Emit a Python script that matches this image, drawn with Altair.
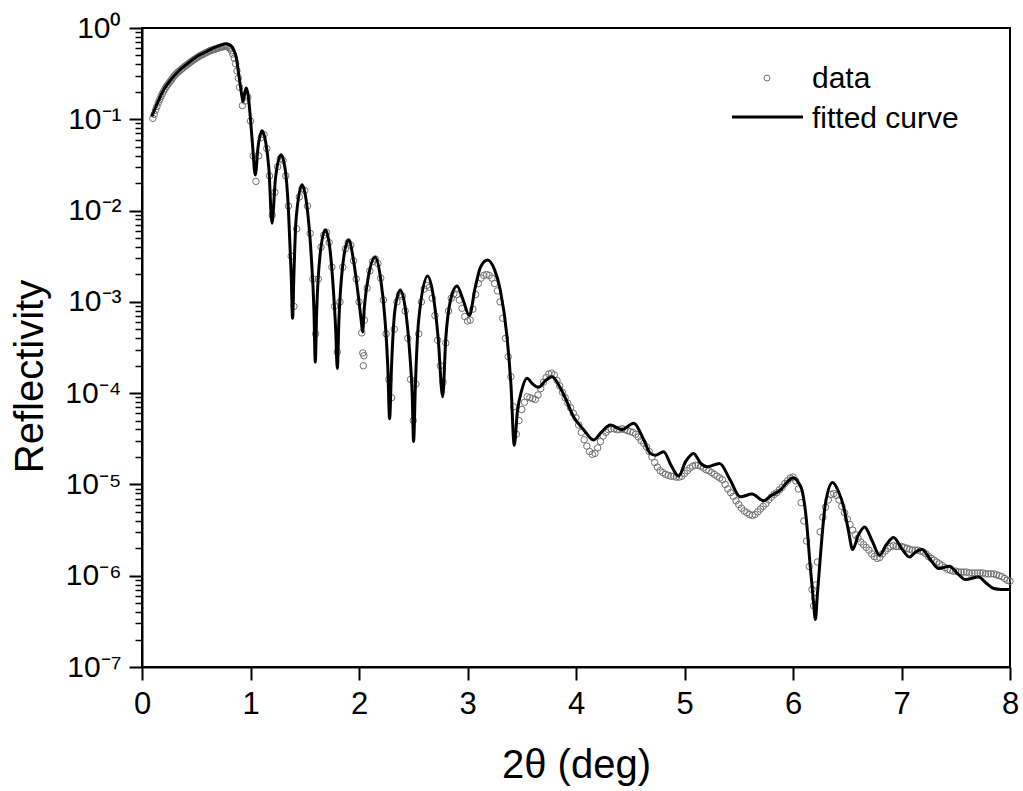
import json
import altair as alt
import pandas as pd

# ---------------- data ----------------
# measured reflectivity: 2theta (deg) and log10(reflectivity), part A (0.1 - 3.5)
data_x_a = [
    0.100, 0.125, 0.150, 0.175, 0.200, 0.225, 0.250, 0.275, 0.300, 0.325,
    0.350, 0.375, 0.400, 0.425, 0.450, 0.475, 0.500, 0.525, 0.550, 0.575,
    0.600, 0.625, 0.650, 0.675, 0.700, 0.725, 0.750, 0.775, 0.800, 0.825,
    0.850, 0.875, 0.900, 0.925, 0.950, 0.975, 1.000, 1.025, 1.050, 1.075,
    1.100, 1.125, 1.150, 1.175, 1.200, 1.225, 1.250, 1.275, 1.300, 1.325,
    1.350, 1.375, 1.400, 1.425, 1.450, 1.475, 1.500, 1.525, 1.550, 1.575,
    1.600, 1.625, 1.650, 1.675, 1.700, 1.725, 1.750, 1.775, 1.800, 1.825,
    1.850, 1.875, 1.900, 1.925, 1.950, 1.975, 2.000, 2.025, 2.035, 2.040,
    2.045, 2.050, 2.075, 2.100, 2.125, 2.150, 2.175, 2.200, 2.225, 2.250,
    2.275, 2.300, 2.325, 2.350, 2.375, 2.400, 2.425, 2.450, 2.475, 2.500,
    2.525, 2.550, 2.575, 2.600, 2.625, 2.650, 2.675, 2.700, 2.725, 2.750,
    2.775, 2.800, 2.825, 2.850, 2.875, 2.900, 2.925, 2.950, 2.975, 3.000,
    3.025, 3.050, 3.075, 3.100, 3.125, 3.150, 3.175, 3.200, 3.225, 3.250,
    3.275, 3.300, 3.325, 3.350, 3.375, 3.400, 3.425, 3.450, 3.475, 3.500,
]
data_logr_a = [
    -0.99, -0.90, -0.82, -0.75, -0.69, -0.64, -0.60, -0.56, -0.52, -0.49,
    -0.465, -0.44, -0.415, -0.395, -0.37, -0.35, -0.33, -0.31, -0.295, -0.28,
    -0.265, -0.25, -0.24, -0.23, -0.22, -0.21, -0.205, -0.20, -0.215, -0.25,
    -0.33, -0.47, -0.65, -0.85, -0.80, -0.76, -1.02, -1.40, -1.68, -1.40,
    -1.20, -1.17, -1.32, -1.62, -2.05, -1.80, -1.52, -1.43, -1.45, -1.62,
    -1.95, -2.50, -3.05, -2.20, -1.85, -1.76, -1.78, -1.95, -2.25, -2.75,
    -3.35, -2.75, -2.40, -2.27, -2.24, -2.35, -2.62, -3.05, -3.55, -3.00,
    -2.62, -2.42, -2.35, -2.38, -2.55, -2.75, -3.00, -3.34, -3.56, -3.70,
    -3.59, -3.20, -2.85, -2.66, -2.56, -2.53, -2.58, -2.74, -2.98, -3.35,
    -3.85, -4.05, -3.30, -3.00, -2.92, -2.94, -3.10, -3.40, -3.85, -4.30,
    -3.90, -3.35, -3.00, -2.86, -2.82, -2.84, -2.96, -3.15, -3.42, -3.70,
    -3.88, -3.45, -3.10, -2.96, -2.91, -2.92, -2.98, -3.07, -3.16, -3.21,
    -3.20, -3.08, -2.92, -2.80, -2.74, -2.71, -2.70, -2.71, -2.74, -2.80,
    -2.88, -3.00, -3.18, -3.40, -3.60, -3.82, -4.15, -4.45, -4.30, -4.18,
]
# part B: extra points on the critical-angle plateau
data_x_b = [
    0.1125, 0.1375, 0.1625, 0.1875, 0.2125, 0.2375, 0.2625, 0.2875,
    0.3125, 0.3375, 0.3625, 0.3875, 0.4125, 0.4375, 0.4625, 0.4875,
    0.5125, 0.5375, 0.5625, 0.5875, 0.6125, 0.6375, 0.6625, 0.6875,
    0.7125, 0.7375, 0.7625, 0.7875, 0.8125, 0.8375, 0.8625, 0.8875,
]
data_logr_b = [
    -0.945, -0.86, -0.785, -0.72, -0.665, -0.62, -0.58, -0.54,
    -0.505, -0.477, -0.452, -0.427, -0.405, -0.382, -0.36, -0.34,
    -0.32, -0.302, -0.287, -0.272, -0.257, -0.245, -0.235, -0.225,
    -0.215, -0.207, -0.202, -0.205, -0.23, -0.285, -0.39, -0.55,
]
# part C: 3.5 - 8
data_x_c = [
    3.525, 3.550, 3.575, 3.600, 3.625, 3.650, 3.675, 3.700, 3.725, 3.750,
    3.775, 3.800, 3.825, 3.850, 3.875, 3.900, 3.925, 3.950, 3.975, 4.000,
    4.025, 4.050, 4.075, 4.100, 4.125, 4.150, 4.175, 4.200, 4.225, 4.250,
    4.275, 4.300, 4.325, 4.350, 4.375, 4.400, 4.425, 4.450, 4.475, 4.500,
    4.525, 4.550, 4.575, 4.600, 4.625, 4.650, 4.675, 4.700, 4.725, 4.750,
    4.775, 4.800, 4.825, 4.850, 4.875, 4.900, 4.925, 4.950, 4.975, 5.000,
    5.025, 5.050, 5.075, 5.100, 5.125, 5.150, 5.175, 5.200, 5.225, 5.250,
    5.275, 5.300, 5.325, 5.350, 5.375, 5.400, 5.425, 5.450, 5.475, 5.500,
    5.525, 5.550, 5.575, 5.600, 5.625, 5.650, 5.675, 5.700, 5.725, 5.750,
    5.775, 5.800, 5.825, 5.850, 5.875, 5.900, 5.925, 5.950, 5.975, 6.000,
    6.025, 6.050, 6.075, 6.100, 6.125, 6.150, 6.175, 6.190, 6.200, 6.210,
    6.225, 6.250, 6.275, 6.300, 6.325, 6.350, 6.375, 6.400, 6.425, 6.450,
    6.475, 6.500, 6.525, 6.550, 6.575, 6.600, 6.625, 6.650, 6.675, 6.700,
    6.725, 6.750, 6.775, 6.800, 6.825, 6.850, 6.875, 6.900, 6.925, 6.950,
    6.975, 7.000, 7.025, 7.050, 7.075, 7.100, 7.125, 7.150, 7.175, 7.200,
    7.225, 7.250, 7.275, 7.300, 7.325, 7.350, 7.375, 7.400, 7.425, 7.450,
    7.475, 7.500, 7.525, 7.550, 7.575, 7.600, 7.625, 7.650, 7.675, 7.700,
    7.725, 7.750, 7.775, 7.800, 7.825, 7.850, 7.875, 7.900, 7.925, 7.950,
    7.975, 8.000,
]
data_logr_c = [
    -4.10, -4.04, -4.05, -4.06, -4.07, -4.02, -3.95, -3.88, -3.83, -3.79,
    -3.78, -3.80, -3.86, -3.92, -3.99, -4.05, -4.11, -4.16, -4.22, -4.27,
    -4.35, -4.43, -4.51, -4.58, -4.64, -4.67, -4.66, -4.60, -4.53, -4.47,
    -4.43, -4.40, -4.39, -4.39, -4.40, -4.40, -4.39, -4.40, -4.41, -4.42,
    -4.43, -4.45, -4.48, -4.52, -4.55, -4.59, -4.64, -4.70, -4.76, -4.81,
    -4.85, -4.87, -4.89, -4.90, -4.91, -4.91, -4.92, -4.92, -4.91, -4.88,
    -4.85, -4.82, -4.80, -4.79, -4.79, -4.80, -4.82, -4.84, -4.85, -4.87,
    -4.89, -4.91, -4.93, -4.95, -5.00, -5.05, -5.09, -5.13, -5.18, -5.22,
    -5.26, -5.29, -5.31, -5.33, -5.34, -5.33, -5.30, -5.27, -5.24, -5.21,
    -5.17, -5.14, -5.11, -5.09, -5.06, -5.03, -4.99, -4.96, -4.93, -4.92,
    -4.96, -5.05, -5.20, -5.40, -5.62, -5.90, -6.15, -6.33, -6.25, -6.10,
    -5.85, -5.52, -5.36, -5.25, -5.17, -5.11, -5.10, -5.12, -5.17, -5.24,
    -5.31, -5.38, -5.44, -5.50, -5.55, -5.59, -5.63, -5.66, -5.69, -5.72,
    -5.76, -5.79, -5.81, -5.80, -5.76, -5.73, -5.70, -5.68, -5.67, -5.68,
    -5.68, -5.68, -5.69, -5.70, -5.71, -5.72, -5.72, -5.72, -5.73, -5.74,
    -5.76, -5.79, -5.81, -5.83, -5.85, -5.87, -5.89, -5.91, -5.93, -5.94,
    -5.95, -5.95, -5.96, -5.96, -5.96, -5.96, -5.97, -5.97, -5.97, -5.97,
    -5.97, -5.97, -5.98, -5.98, -5.98, -5.98, -5.99, -6.00, -6.01, -6.03,
    -6.05, -6.06,
]

# fitted curve: 2theta (deg) and log10(reflectivity)
fit_x = [
    0.09, 0.15, 0.20, 0.27, 0.35, 0.43, 0.51, 0.59, 0.66, 0.72,
    0.77, 0.81, 0.845, 0.87, 0.89, 0.915, 0.931, 0.945, 0.961, 0.98,
    1.00, 1.02, 1.044, 1.07, 1.106, 1.14, 1.17, 1.198, 1.23, 1.281,
    1.32, 1.35, 1.375, 1.388, 1.40, 1.42, 1.475, 1.52, 1.56, 1.585,
    1.597, 1.61, 1.64, 1.689, 1.73, 1.76, 1.785, 1.80, 1.815, 1.85,
    1.904, 1.95, 1.99, 2.02, 2.033, 2.05, 2.09, 2.15, 2.20, 2.24,
    2.265, 2.282, 2.30, 2.33, 2.381, 2.43, 2.47, 2.49, 2.503, 2.52,
    2.55, 2.632, 2.68, 2.73, 2.771, 2.80, 2.84, 2.903, 2.96, 3.017,
    3.07, 3.12, 3.185, 3.25, 3.302, 3.364, 3.40, 3.431, 3.46, 3.50,
    3.548, 3.60, 3.655, 3.72, 3.779, 3.85, 3.90, 3.978, 4.07, 4.162,
    4.24, 4.316, 4.424, 4.531, 4.62, 4.685, 4.731, 4.807, 4.88, 4.946,
    5.01, 5.084, 5.15, 5.207, 5.324, 5.42, 5.514, 5.622, 5.729, 5.80,
    5.883, 5.95, 6.000, 6.05, 6.083, 6.12, 6.159, 6.19, 6.206, 6.225,
    6.245, 6.267, 6.30, 6.365, 6.42, 6.467, 6.51, 6.550, 6.60, 6.660,
    6.73, 6.798, 6.86, 6.927, 7.00, 7.075, 7.13, 7.189, 7.27, 7.342,
    7.443, 7.52, 7.588, 7.711, 7.78, 7.849, 7.92, 7.996,
]
fit_logr = [
    -0.97, -0.80, -0.677, -0.56, -0.457, -0.38, -0.31, -0.26, -0.219, -0.19,
    -0.172, -0.185, -0.238, -0.33, -0.493, -0.70, -0.805, -0.72, -0.658, -0.75,
    -1.0, -1.3, -1.61, -1.30, -1.126, -1.25, -1.55, -2.14, -1.65, -1.389,
    -1.55, -2.0, -2.7, -3.18, -2.7, -2.1, -1.718, -1.95, -2.5, -3.1,
    -3.66, -3.1, -2.5, -2.21, -2.4, -2.8, -3.3, -3.73, -3.2, -2.6,
    -2.32, -2.55, -2.9, -3.2, -3.33, -3.05, -2.7, -2.51, -2.75, -3.2,
    -3.7, -4.28, -3.7, -3.1, -2.87, -3.1, -3.6, -4.0, -4.53, -3.9,
    -3.2, -2.716, -2.9, -3.4, -4.04, -3.4, -3.0, -2.826, -2.98, -3.15,
    -2.85, -2.62, -2.541, -2.65, -2.87, -3.38, -3.9, -4.57, -4.2, -3.966,
    -3.838, -3.90, -3.936, -3.86, -3.82, -3.93, -4.05, -4.26, -4.40, -4.514,
    -4.42, -4.35, -4.40, -4.33, -4.50, -4.66, -4.68, -4.642, -4.80, -4.909,
    -4.75, -4.66, -4.77, -4.807, -4.77, -4.95, -5.136, -5.106, -5.18, -5.12,
    -5.063, -4.97, -4.927, -4.98, -5.063, -5.35, -5.90, -6.3, -6.48, -6.2,
    -5.9, -5.575, -5.2, -4.978, -5.08, -5.246, -5.50, -5.713, -5.56, -5.465,
    -5.62, -5.775, -5.66, -5.581, -5.70, -5.794, -5.74, -5.713, -5.83, -5.921,
    -5.896, -5.98, -6.042, -6.013, -6.08, -6.14, -6.15, -6.151,
]

# axis ticks and labels
x_major = [0, 1, 2, 3, 4, 5, 6, 7, 8]
x_minor = [0.5, 1.5, 2.5, 3.5, 4.5, 5.5, 6.5, 7.5]
y_exponents = [0, -1, -2, -3, -4, -5, -6, -7]
y_labels = ["10⁰", "10⁻¹", "10⁻²", "10⁻³", "10⁻⁴", "10⁻⁵", "10⁻⁶", "10⁻⁷"]
y_minor_mult = [2, 3, 4, 5, 6, 7, 8, 9]
legend_labels = ["data", "fitted curve"]

# ---------------- frames ----------------
data_x = data_x_a + data_x_b + data_x_c
data_logr = data_logr_a + data_logr_b + data_logr_c
data_df = pd.DataFrame({"x": data_x, "R": [10.0 ** v for v in data_logr]})
fit_df = pd.DataFrame({"x": fit_x, "R": [10.0 ** v for v in fit_logr]})

y_values = [10.0 ** e for e in y_exponents] + [
    m * 10.0 ** e for e in y_exponents[1:] for m in y_minor_mult
]
x_values = sorted(x_major + x_minor)

FONT = "Liberation Sans, Arial, sans-serif"

is_minor_y = "abs(log(datum.value)/LN10 - round(log(datum.value)/LN10)) > 0.001"
lab_arr = json.dumps(y_labels, ensure_ascii=False)
y_label_expr = (
    f"({is_minor_y}) ? '' : {lab_arr}[round(-log(datum.value)/LN10)]"
)
is_minor_x = "abs(datum.value - round(datum.value)) > 0.001"

x_axis = alt.Axis(
    values=x_values,
    labelExpr=f"({is_minor_x}) ? '' : datum.label",
    format="d",
    grid=False,
    domainColor="black",
    domainWidth=2,
    tickColor="black",
    tickSize={"condition": {"test": is_minor_x, "value": 7}, "value": 13},
    tickWidth={"condition": {"test": is_minor_x, "value": 1.5}, "value": 2},
    labelFont=FONT,
    labelFontSize=31,
    labelColor="black",
    labelPadding=9,
    labelFlush=False,
    labelOverlap=False,
    title="2θ (deg)",
    titleFont=FONT,
    titleFontSize=40,
    titleFontWeight="normal",
    titleColor="black",
    titleX=434,
    titleY=98,
    titleBaseline="middle",
    titleAlign="center",
)

y_axis = alt.Axis(
    values=y_values,
    labelExpr=y_label_expr,
    grid=False,
    domainColor="black",
    domainWidth=2,
    tickColor="black",
    tickSize={"condition": {"test": is_minor_y, "value": 7}, "value": 13},
    tickWidth={"condition": {"test": is_minor_y, "value": 1.5}, "value": 2},
    labelFont=FONT,
    labelFontSize=30,
    labelColor="black",
    labelPadding=8,
    labelFlush=False,
    labelOverlap=False,
    title="Reflectivity",
    titleFont=FONT,
    titleFontSize=40,
    titleFontWeight="normal",
    titleColor="black",
    titleX=-112,
    titleY=348,
    titleAngle=-90,
    titleBaseline="middle",
    titleAlign="center",
)

xs = alt.Scale(domain=[0, 8], nice=False, zero=False)
ys = alt.Scale(type="log", domain=[1e-7, 1], nice=False)

points = alt.Chart(data_df).mark_point(
    shape="circle", filled=False, color="#707070", size=42, strokeWidth=1, opacity=1
).encode(
    x=alt.X("x:Q", scale=xs, axis=x_axis),
    y=alt.Y("R:Q", scale=ys, axis=y_axis),
)

line = alt.Chart(fit_df).mark_line(
    color="black", strokeWidth=3, interpolate="monotone"
).encode(
    x=alt.X("x:Q", scale=xs, axis=x_axis),
    y=alt.Y("R:Q", scale=ys, axis=y_axis),
)

leg_data = pd.DataFrame({"label": legend_labels[:1]})
leg_fit = pd.DataFrame({"label": legend_labels[1:]})

leg_point = alt.Chart(leg_data).mark_point(
    shape="circle", filled=False, color="#707070", size=36, strokeWidth=1, opacity=1
).encode(x=alt.value(625), y=alt.value(50))
leg_point_text = alt.Chart(leg_data).mark_text(
    align="left", baseline="alphabetic", font=FONT, fontSize=30, color="black"
).encode(x=alt.value(670), y=alt.value(60), text="label:N")
leg_line = alt.Chart(leg_fit).mark_rule(color="black", strokeWidth=3).encode(
    x=alt.value(590), x2=alt.value(661), y=alt.value(89)
)
leg_line_text = alt.Chart(leg_fit).mark_text(
    align="left", baseline="alphabetic", font=FONT, fontSize=30, color="black"
).encode(x=alt.value(670), y=alt.value(100), text="label:N")

chart = alt.layer(
    points, line, leg_point, leg_point_text, leg_line, leg_line_text
).properties(
    width=868,
    height=639,
    autosize=alt.AutoSizeParams(type="none"),
    padding={"left": 142, "top": 28, "right": 13, "bottom": 124},
    background="white",
).configure_view(
    stroke="black", strokeWidth=2
)

chart.save("out.html", embed_options={"renderer": "svg", "actions": False})
